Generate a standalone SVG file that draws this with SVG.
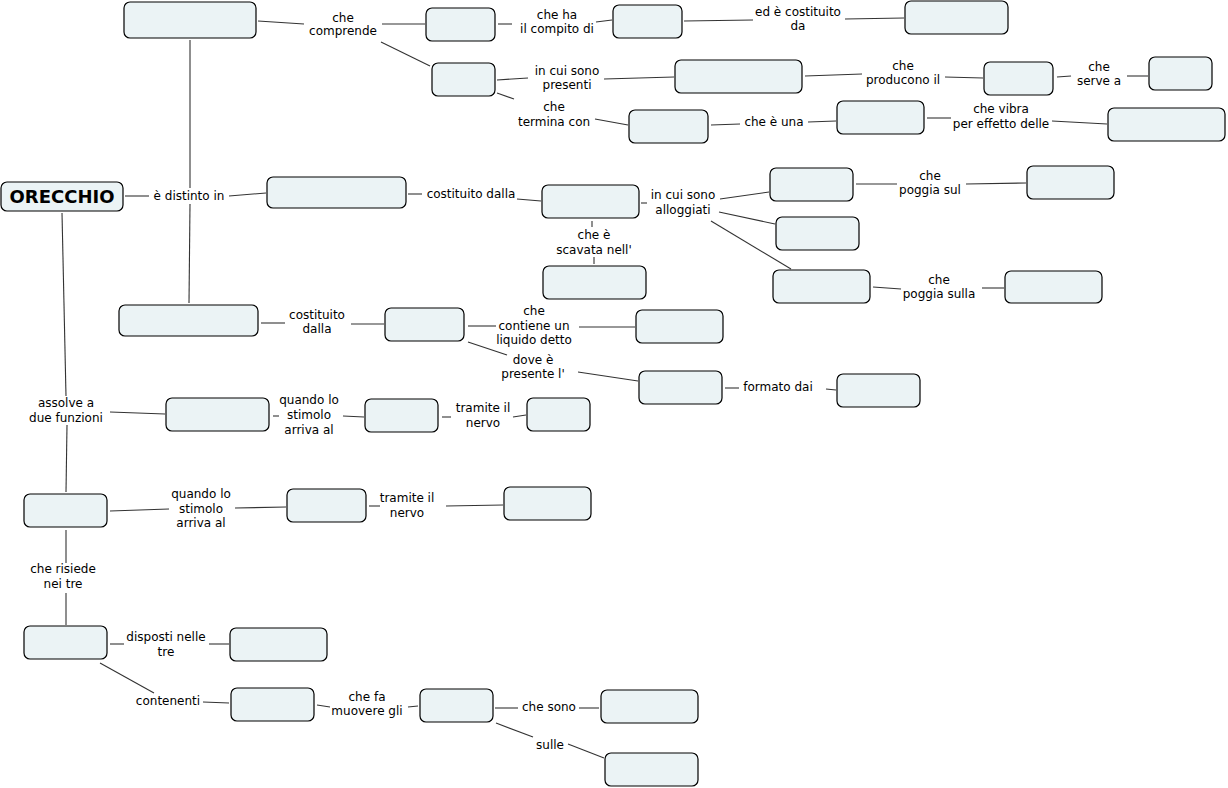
<svg xmlns="http://www.w3.org/2000/svg" width="1228" height="788" viewBox="0 0 1228 788">
<style>
.n{fill:#ebf3f5;stroke:#000;stroke-width:1.2}
.t{font-family:"DejaVu Sans","Liberation Sans",sans-serif;font-size:12px;fill:#000;text-anchor:middle}
.b{font-family:"DejaVu Sans","Liberation Sans",sans-serif;font-size:18px;font-weight:bold;fill:#000;text-anchor:middle}
#conn path{stroke:#333;stroke-width:1.1;fill:none}
</style>
<rect width="1228" height="788" fill="#fff"/>
<g id="conn">
<path d="M125,196 L149,196"/><path d="M190,188 L190,40"/><path d="M229,196 L266,193"/><path d="M190,204 L189,303"/>
<path d="M62,213 L66,396"/><path d="M110,412 L165,414"/><path d="M67,425 L66,492"/>
<path d="M258,21 L304,24"/><path d="M382,24 L425,24"/><path d="M381,42 L430,66"/>
<path d="M498,24 L512,24"/><path d="M596,22 L612,20"/><path d="M684,21 L753,20"/><path d="M845,19 L904,18"/>
<path d="M497,80 L528,78"/><path d="M604,79 L674,77"/><path d="M497,93 L514,99"/><path d="M595,119 L628,125"/>
<path d="M805,76 L862,74"/><path d="M945,77 L983,78"/><path d="M1057,77 L1071,76"/><path d="M1127,76 L1148,76"/>
<path d="M711,125 L740,124"/><path d="M808,122 L836,121"/><path d="M927,118 L951,118"/><path d="M1052,121 L1107,124"/>
<path d="M408,194 L422,194"/><path d="M517,199 L541,201"/><path d="M641,203 L647,203"/>
<path d="M720,199 L769,192"/><path d="M719,212 L775,224"/><path d="M711,221 L791,269"/>
<path d="M856,184 L897,184"/><path d="M966,184 L1026,183"/><path d="M592,221 L592,227"/><path d="M594,257 L594,264"/>
<path d="M873,287 L901,289"/><path d="M982,288 L1004,288"/>
<path d="M261,323 L285,323"/><path d="M351,324 L384,324"/><path d="M468,326 L496,326"/><path d="M579,327 L635,327"/>
<path d="M468,342 L507,355"/><path d="M578,372 L638,381"/><path d="M725,388 L739,388"/><path d="M826,389 L836,390"/>
<path d="M273,416 L279,416"/><path d="M343,416 L364,417"/><path d="M442,417 L451,417"/><path d="M513,417 L526,415"/>
<path d="M110,511 L169,509"/><path d="M235,508 L286,507"/><path d="M369,506 L380,506"/><path d="M446,506 L503,505"/>
<path d="M66,530 L66,563"/><path d="M66,593 L66,625"/>
<path d="M110,644 L124,644"/><path d="M209,644 L229,644"/><path d="M100,663 L154,693"/><path d="M203,702 L229,703"/>
<path d="M317,705 L330,707"/><path d="M408,707 L418,706"/><path d="M495,708 L518,708"/><path d="M579,708 L599,708"/>
<path d="M496,723 L533,737"/><path d="M568,744 L604,758"/>
</g>
<g id="labels">
<text class="t" x="343" y="22">che<tspan x="343" dy="13">comprende</tspan></text>
<text class="t" x="557" y="19">che ha<tspan x="557" dy="14">il compito di</tspan></text>
<text class="t" x="798" y="16">ed è costituito<tspan x="798" dy="14">da</tspan></text>
<text class="t" x="567" y="75">in cui sono<tspan x="567" dy="14">presenti</tspan></text>
<text class="t" x="554" y="111">che<tspan x="554" dy="15">termina con</tspan></text>
<text class="t" x="903" y="70">che<tspan x="903" dy="14">producono il</tspan></text>
<text class="t" x="1099" y="71">che<tspan x="1099" dy="14">serve a</tspan></text>
<text class="t" x="774" y="126">che è una</text>
<text class="t" x="1001" y="113">che vibra<tspan x="1001" dy="15">per effetto delle</tspan></text>
<text class="t" x="189" y="200">è distinto in</text>
<text class="t" x="471" y="198">costituito dalla</text>
<text class="t" x="683" y="199">in cui sono<tspan x="683" dy="15">alloggiati</tspan></text>
<text class="t" x="930" y="180">che<tspan x="930" dy="14">poggia sul</tspan></text>
<text class="t" x="594" y="239">che è<tspan x="594" dy="15">scavata nell'</tspan></text>
<text class="t" x="939" y="284">che<tspan x="939" dy="14">poggia sulla</tspan></text>
<text class="t" x="317" y="319">costituito<tspan x="317" dy="14">dalla</tspan></text>
<text class="t" x="534" y="315">che<tspan x="534" dy="15">contiene un</tspan><tspan x="534" dy="14">liquido detto</tspan></text>
<text class="t" x="533" y="364">dove è<tspan x="533" dy="14">presente l'</tspan></text>
<text class="t" x="778" y="391">formato dai</text>
<text class="t" x="66" y="407">assolve a<tspan x="66" dy="15">due funzioni</tspan></text>
<text class="t" x="309" y="404">quando lo<tspan x="309" dy="15">stimolo</tspan><tspan x="309" dy="15">arriva al</tspan></text>
<text class="t" x="483" y="412">tramite il<tspan x="483" dy="15">nervo</tspan></text>
<text class="t" x="201" y="498">quando lo<tspan x="201" dy="15">stimolo</tspan><tspan x="201" dy="14">arriva al</tspan></text>
<text class="t" x="407" y="502">tramite il<tspan x="407" dy="15">nervo</tspan></text>
<text class="t" x="63" y="573">che risiede<tspan x="63" dy="15">nei tre</tspan></text>
<text class="t" x="166" y="641">disposti nelle<tspan x="166" dy="15">tre</tspan></text>
<text class="t" x="168" y="705">contenenti</text>
<text class="t" x="367" y="701">che fa<tspan x="367" dy="14">muovere gli</tspan></text>
<text class="t" x="549" y="711">che sono</text>
<text class="t" x="550" y="749">sulle</text>
</g>
<g id="orecchio"><rect class="n" x="1" y="182" width="122" height="29" rx="6"/><text class="b" x="62" y="203">ORECCHIO</text></g>
<g id="n1"><rect class="n" x="124" y="2" width="132" height="36" rx="6"/></g>
<g id="n2"><rect class="n" x="426" y="8" width="69" height="33" rx="6"/></g>
<g id="n3"><rect class="n" x="613" y="5" width="69" height="33" rx="6"/></g>
<g id="n4"><rect class="n" x="905" y="1" width="103" height="33" rx="6"/></g>
<g id="n5"><rect class="n" x="432" y="63" width="63" height="33" rx="6"/></g>
<g id="n6"><rect class="n" x="675" y="60" width="127" height="33" rx="6"/></g>
<g id="n7"><rect class="n" x="984" y="62" width="69" height="33" rx="6"/></g>
<g id="n8"><rect class="n" x="1149" y="57" width="63" height="33" rx="6"/></g>
<g id="n9"><rect class="n" x="629" y="110" width="79" height="33" rx="6"/></g>
<g id="n10"><rect class="n" x="837" y="101" width="87" height="33" rx="6"/></g>
<g id="n11"><rect class="n" x="1108" y="108" width="117" height="33" rx="6"/></g>
<g id="n13"><rect class="n" x="267" y="177" width="139" height="31" rx="6"/></g>
<g id="n14"><rect class="n" x="542" y="185" width="97" height="33" rx="6"/></g>
<g id="n15"><rect class="n" x="770" y="168" width="83" height="33" rx="6"/></g>
<g id="n16"><rect class="n" x="1027" y="166" width="87" height="33" rx="6"/></g>
<g id="n17"><rect class="n" x="776" y="217" width="83" height="33" rx="6"/></g>
<g id="n18"><rect class="n" x="543" y="266" width="103" height="33" rx="6"/></g>
<g id="n19"><rect class="n" x="773" y="270" width="97" height="33" rx="6"/></g>
<g id="n20"><rect class="n" x="1005" y="271" width="97" height="32" rx="6"/></g>
<g id="n21"><rect class="n" x="119" y="305" width="139" height="31" rx="6"/></g>
<g id="n22"><rect class="n" x="385" y="308" width="79" height="33" rx="6"/></g>
<g id="n23"><rect class="n" x="636" y="310" width="87" height="33" rx="6"/></g>
<g id="n24"><rect class="n" x="639" y="371" width="83" height="33" rx="6"/></g>
<g id="n25"><rect class="n" x="837" y="374" width="83" height="33" rx="6"/></g>
<g id="n26"><rect class="n" x="166" y="398" width="103" height="33" rx="6"/></g>
<g id="n27"><rect class="n" x="365" y="399" width="73" height="33" rx="6"/></g>
<g id="n28"><rect class="n" x="527" y="398" width="63" height="33" rx="6"/></g>
<g id="n29"><rect class="n" x="24" y="494" width="83" height="33" rx="6"/></g>
<g id="n30"><rect class="n" x="287" y="489" width="79" height="33" rx="6"/></g>
<g id="n31"><rect class="n" x="504" y="487" width="87" height="33" rx="6"/></g>
<g id="n32"><rect class="n" x="24" y="626" width="83" height="33" rx="6"/></g>
<g id="n33"><rect class="n" x="230" y="628" width="97" height="33" rx="6"/></g>
<g id="n34"><rect class="n" x="231" y="688" width="83" height="33" rx="6"/></g>
<g id="n35"><rect class="n" x="420" y="689" width="73" height="33" rx="6"/></g>
<g id="n36"><rect class="n" x="601" y="690" width="97" height="33" rx="6"/></g>
<g id="n37"><rect class="n" x="605" y="753" width="93" height="33" rx="6"/></g>
</svg>
